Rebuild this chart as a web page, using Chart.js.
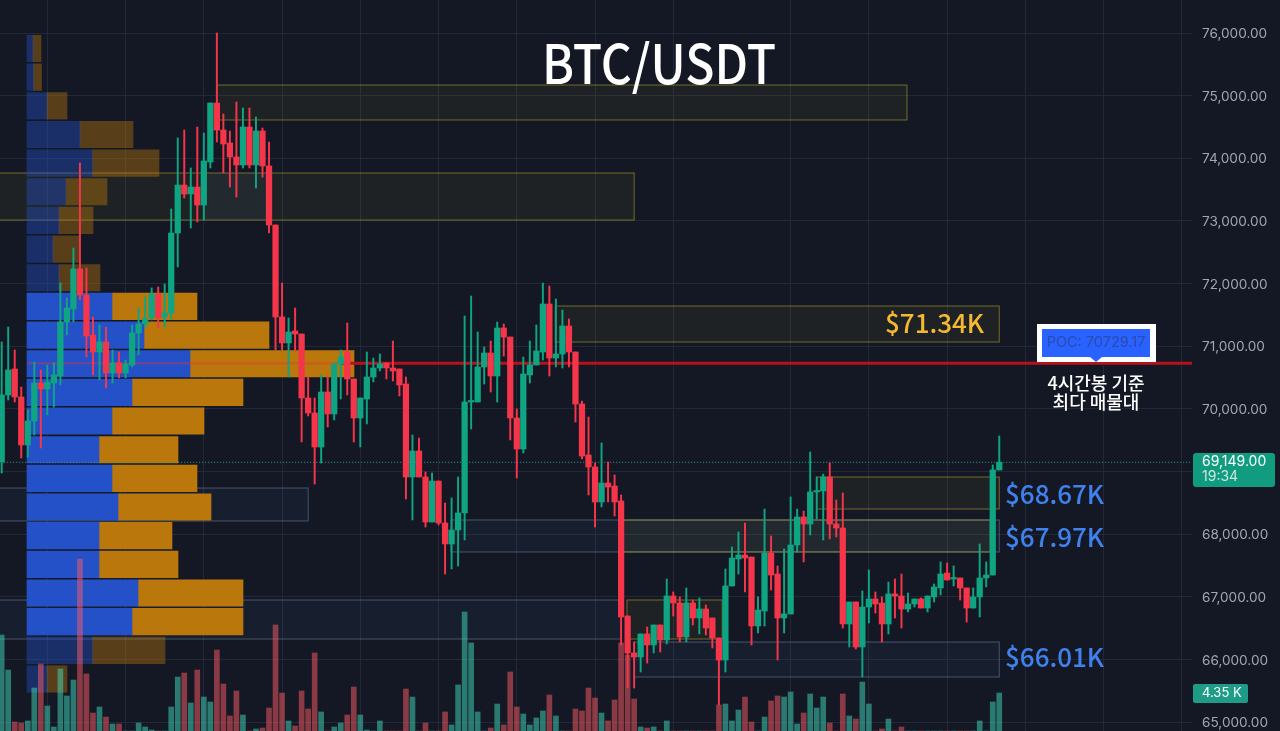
<!DOCTYPE html>
<html>
<head>
<meta charset="utf-8">
<title>BTC/USDT</title>
<style>
  html, body { margin: 0; padding: 0; background: #141824; overflow: hidden; }
  #wrap { width: 1280px; height: 731px; position: relative; }
</style>
<script src="https://cdn.jsdelivr.net/npm/chart.js@4/dist/chart.umd.min.js"></script>
</head>
<body>
<div id="wrap"><canvas id="btcChart"></canvas></div>
<script>
// 4h candles
const opens = [69153,70223,70638,70191,69425,69808,70414,70319,70414,70526,71388,71595,72234,71819,71180,70909,71069,70574,70734,70574,70702,71212,71356,71452,71835,71468,71532,72808,73574,73431,73542,73255,73941,74883,74452,74245,74021,73894,74500,73894,74436,73878,72936,71468,71053,71244,71196,70175,69936,69393,70271,69920,70718,70909,70478,69856,70159,70510,70654,70734,70654,70638,70398,68914,69329,68914,68196,68850,68180,67845,68068,68340,70111,70111,70670,70893,70526,71292,71148,69856,69361,70542,70702,70909,71675,70813,70877,71324,70909,70079,69265,69074,68515,68818,68770,68531,66696,66105,66041,66409,66233,66552,66313,67015,66903,66361,66903,66664,66807,66664,66345,65993,67175,67605,67669,67637,66536,66775,67701,67366,66664,66728,67829,68276,68164,68675,68691,68914,68164,68100,66568,66919,66201,66839,66967,66903,66568,67047,67015,66807,66887,66967,66823,67000,67143,67382,67286,67302,67143,66823,67000,67302,67350,69026];
const highs = [71069,71308,70941,70350,69983,70749,70622,70702,70734,72010,71771,72569,73926,72250,71468,71340,71308,70941,70909,70781,71340,71611,71787,71931,71947,71994,73191,74325,74452,73846,74500,74404,74883,76000,74708,74436,74899,74803,74803,74660,74484,74261,72936,72010,71452,71611,71196,70510,70175,70542,70510,70734,70941,71372,70478,70175,70909,70813,70877,70734,71085,70638,70510,69584,69536,68994,68978,68850,68499,68579,68914,71484,71803,71228,70989,71085,71388,71356,71148,69999,70829,71085,71340,72010,71963,71755,71579,71436,70909,70127,69872,69137,69457,69153,68946,68627,66696,66281,66409,66520,66552,66552,67286,67079,67000,67143,66951,66983,66871,66664,66345,67446,67797,68036,68180,67637,67000,68403,67973,67494,67765,68595,68403,68371,69313,68914,68962,69137,68547,68659,66919,66919,67095,67430,67079,67000,67238,67286,67366,67063,66967,66983,67015,67206,67558,67542,67494,67302,67143,67143,67845,67558,69106,69568];
const lows = [68978,70143,70111,69217,69233,69584,69377,69904,70031,70382,71180,71388,71739,70829,70542,70462,70335,70414,70494,70494,70670,70861,71308,71420,71292,71308,71436,72266,73367,72888,72984,73016,73846,74261,73766,73542,73383,73846,73846,73526,73702,72808,70941,70941,70510,70925,69473,69888,68802,69137,69712,69824,70159,70223,69473,69393,69760,70430,70606,70478,70446,70207,68563,68228,68914,68116,68196,68148,67366,67446,67494,67909,69680,70111,70398,70271,70111,70845,69505,68898,69297,70414,70702,70781,70526,70670,70654,70670,69792,69201,68627,68116,68435,68515,68292,66233,65546,65546,65802,65945,66105,66121,66249,66696,66281,66281,66552,66409,66393,66185,65275,65802,67175,67366,67079,66233,66425,66536,67111,65993,66425,66728,67717,67558,67989,68244,67909,67925,67957,66504,66201,66169,65722,66584,66743,66281,66409,66664,66504,66759,66839,66823,66759,66919,67031,67270,67175,66951,66600,66823,66680,67158,67350,69026];
const closes = [70223,70622,70191,69425,69808,70414,70319,70430,70542,71388,71611,72234,71819,71164,70909,71069,70574,70734,70574,70718,71212,71356,71436,71835,71452,71532,72808,73574,73431,73542,73255,73957,74883,74452,74229,74021,73894,74500,73894,74436,73878,72936,71468,71053,71228,71196,70175,69936,69393,70271,69920,70718,70829,70478,69856,70175,70510,70654,70718,70654,70606,70382,68914,69329,68914,68196,68850,68180,67845,68068,68340,70111,70127,70670,70893,70526,71292,71148,69856,69361,70558,70702,70925,71675,70813,70877,71324,70909,70079,69249,69074,68515,68818,68754,68515,66680,66105,66041,66409,66233,66552,66313,67015,66903,66361,66903,66664,66807,66504,66345,65993,67175,67621,67669,67621,66536,66791,67701,67350,66664,66728,67829,68276,68164,68675,68691,68914,68164,68100,66568,66919,66201,66839,66967,66887,66568,67047,67015,66807,66887,66967,66823,67015,67158,67366,67270,67302,67143,66823,67000,67302,67350,69026,69149];
// volume in thousands, 0 where the bar is below the visible edge
const volumes = [10.99,6.98,1.03,0.92,1.15,4.92,7.67,2.86,0.46,7.10,4.01,5.84,19.69,6.53,2.06,2.75,1.60,0.80,0.80,0,0,0.92,0.46,0.11,0,0,2.75,6.18,6.64,3.21,6.98,3.89,3.32,9.27,5.38,1.72,4.58,1.83,0,0.23,0.34,2.63,12.14,4.35,1.15,0.57,4.58,2.52,8.93,2.18,0,0.46,0.92,1.83,5.04,1.83,0.11,0,1.15,0,0,0,4.81,3.89,0,0.92,0,0,2.18,0.69,5.27,13.63,10.08,2.18,0,0.34,3.09,0.69,6.76,2.75,1.95,0.69,1.49,2.29,4.12,1.72,0,0,2.52,2.29,4.92,3.78,2.06,1.15,3.55,10.08,8.70,3.66,0.46,0.34,0.46,0,1.15,0,0,0,0,0,0,0,2.98,3.09,1.15,2.40,3.89,1.03,0,1.60,3.44,4.01,3.89,4.47,0.80,2.06,4.24,2.63,3.89,0.92,0,4.24,1.72,1.37,5.61,3.09,0,0.23,1.37,0,0.46,0,0,0,0,0,0,0,0,0,0,0,1.15,0,3.32,4.35];

// volume profile rows
const profilePrices = [75753,75296,74838,74381,73923,73466,73009,72551,72094,71636,71179,70722,70264,69807,69349,68892,68435,67977,67520,67062,66605,66148,65690];
const profileBuy = [6,6.5,20,53,65.5,39,32,26,32,85,117,163,105,85,72,85,91,72,72,111,105,65.5,20];
const profileSell = [8,8,20,53,66.5,41,34,27,41,85,125,164,111,92,79,85,93,73,79,105,111,72.5,20];
const valueAreaFirst = 9, valueAreaLast = 20;

// supply/demand boxes: candle index from/to and price band
const zoneFrom = [31,-1,-1,68.9,97,33,-1,84.9,125,95,95.9];
const zoneTo = [40.7,47,95,153,153,138.85,97,153,153,151.6,110.5];
const zoneHigh = [73766,68738,66951,68228,66280,75170,73766,71643,68914,68228,66951];
const zoneLow = [73015,68212,66328,67717,65722,74612,73015,71068,68403,67717,66328];
const zoneKind = ['tint','blue','blue','blue','blue','gold','gold','gold','gold','gold','gold'];

const gridCandles = [7,19,31,43,55,67,79,91,103,121,133,145,157,169,181];
const priceTicks = [76000,75000,74000,73000,72000,71000,70000,69000,68000,67000,66000,65000];

const pocPrice = 70729.17;
const lastPrice = 69149;
const chartEnd = 182.56;

const GREEN = '#0fa582', RED = '#f5364a';
const isUp = i => closes[i] >= opens[i];

const zoneStyles = {
  tint: { fill: 'rgba(70,130,200,0.08)', line: 'rgba(0,0,0,0)' },
  blue: { fill: 'rgba(70,130,200,0.07)', line: 'rgba(150,180,220,0.38)' },
  gold: { fill: 'rgba(255,235,30,0.05)', line: 'rgba(255,235,59,0.38)' }
};

// boxes sit under everything the library draws
const zonePlugin = {
  id: 'zones',
  beforeDatasetsDraw(chart) {
    const { ctx, chartArea, scales: { x, y } } = chart;
    ctx.save();
    ctx.beginPath();
    ctx.rect(chartArea.left, chartArea.top, chartArea.width, chartArea.height);
    ctx.clip();
    zoneFrom.forEach((from, i) => {
      const style = zoneStyles[zoneKind[i]];
      const left = x.getPixelForValue(from), right = x.getPixelForValue(zoneTo[i]);
      const top = y.getPixelForValue(zoneHigh[i]), bottom = y.getPixelForValue(zoneLow[i]);
      ctx.fillStyle = style.fill;
      ctx.fillRect(left, top, right - left, bottom - top);
      ctx.strokeStyle = style.line;
      ctx.lineWidth = 1;
      ctx.strokeRect(left, top, right - left, bottom - top);
    });
    ctx.restore();
  }
};

function drawText(ctx, text, px, py, font, color, align) {
  ctx.font = font;
  ctx.fillStyle = color;
  ctx.textAlign = align || 'left';
  ctx.textBaseline = 'middle';
  ctx.fillText(text, px, py);
}

function roundBox(ctx, left, top, w, h, r, color) {
  ctx.fillStyle = color;
  ctx.beginPath();
  ctx.roundRect(left, top, w, h, r);
  ctx.fill();
}

const labelPlugin = {
  id: 'labels',
  afterDraw(chart) {
    const { ctx } = chart;
    const KR = '"Noto Sans CJK KR", "Noto Sans", sans-serif';
    const UI = 'Inter, "Noto Sans", sans-serif';
    ctx.save();

    // the title face is narrower than anything installed, so squeeze it a little
    ctx.save();
    ctx.translate(659, 63);
    ctx.scale(0.89, 1);
    drawText(ctx, 'BTC/USDT', 0, 0, '500 54px ' + KR, '#ffffff', 'center');
    ctx.restore();

    drawText(ctx, '$71.34K', 885, 323, '500 26px ' + KR, '#f6b82f');
    drawText(ctx, '$68.67K', 1005, 494, '500 26px ' + KR, '#3f82ee');
    drawText(ctx, '$67.97K', 1005, 537, '500 26px ' + KR, '#3f82ee');
    drawText(ctx, '$66.01K', 1005, 657, '500 26px ' + KR, '#3f82ee');

    // POC callout
    ctx.fillStyle = '#ffffff';
    ctx.fillRect(1037, 324, 119, 38);
    ctx.fillStyle = '#2962ff';
    ctx.fillRect(1042, 329, 108, 28);
    ctx.beginPath();
    ctx.moveTo(1090, 357);
    ctx.lineTo(1102, 357);
    ctx.lineTo(1096, 362);
    ctx.fill();
    drawText(ctx, 'POC: 70729.17', 1096, 343, '14.5px ' + UI, '#2a4cae', 'center');
    drawText(ctx, '4시간봉 기준', 1096, 383, '500 18px ' + KR, '#ffffff', 'center');
    drawText(ctx, '최다 매물대', 1096, 402, '500 18px ' + KR, '#ffffff', 'center');

    // last price and volume tags on the axis
    roundBox(ctx, 1193, 453, 82, 34, 3, '#119b7f');
    drawText(ctx, '69,149.00', 1202, 462, '14px ' + UI, '#ffffff');
    drawText(ctx, '19:34', 1202, 477, '14px ' + UI, '#c9e8e0');
    roundBox(ctx, 1193, 684, 55, 19, 2, '#1f9c88');
    drawText(ctx, '4.35 K', 1202, 693.5, '13px ' + UI, '#ffffff');
    ctx.restore();
  }
};

const candleIndex = opens.map((_, i) => i);

new Chart(document.getElementById('btcChart'), {
  type: 'bar',
  data: {
    datasets: [
      {
        label: 'Buy profile', indexAxis: 'y', xAxisID: 'xProfile', yAxisID: 'y', order: 8,
        data: profilePrices.map((p, i) => ({ x: [0, profileBuy[i]], y: p })),
        barThickness: 26.5,
        backgroundColor: c => (c.dataIndex >= valueAreaFirst && c.dataIndex <= valueAreaLast) ? '#2450c8' : 'rgba(36,80,200,0.42)'
      },
      {
        label: 'Sell profile', indexAxis: 'y', xAxisID: 'xProfile', yAxisID: 'y', order: 9,
        data: profilePrices.map((p, i) => ({ x: [profileBuy[i], profileBuy[i] + profileSell[i]], y: p })),
        barThickness: 26.5,
        backgroundColor: c => (c.dataIndex >= valueAreaFirst && c.dataIndex <= valueAreaLast) ? '#b9770c' : 'rgba(185,119,12,0.42)'
      },
      {
        label: 'Volume', yAxisID: 'yVolume', order: 6,
        data: candleIndex.map(i => ({ x: i, y: volumes[i] })),
        barThickness: 5,
        backgroundColor: c => isUp(c.dataIndex) ? 'rgba(64,220,192,0.5)' : 'rgba(255,92,102,0.5)'
      },
      {
        type: 'line', label: 'POC inside profile', order: 5, yAxisID: 'y',
        data: [{ x: 3.9, y: pocPrice }, { x: 52, y: pocPrice }],
        borderColor: 'rgba(235,50,60,0.35)', borderWidth: 2.5, pointRadius: 0
      },
      {
        type: 'line', label: 'POC', order: 4, yAxisID: 'y',
        data: [{ x: 52, y: pocPrice }, { x: chartEnd, y: pocPrice }],
        borderColor: '#b5131b', borderWidth: 3, pointRadius: 0
      },
      {
        type: 'line', label: 'Last price', order: 3, yAxisID: 'y',
        data: [{ x: -1, y: lastPrice }, { x: chartEnd, y: lastPrice }],
        borderColor: '#2aa79a', borderWidth: 1, borderDash: [1, 2], pointRadius: 0
      },
      {
        label: 'Wicks', yAxisID: 'y', order: 2,
        data: candleIndex.map(i => ({ x: i, y: [lows[i], highs[i]] })),
        barThickness: 1.3,
        backgroundColor: c => isUp(c.dataIndex) ? GREEN : RED
      },
      {
        label: 'Bodies', yAxisID: 'y', order: 1,
        data: candleIndex.map(i => ({ x: i, y: [opens[i], closes[i]] })),
        barThickness: 5.6,
        minBarLength: 1.5,
        backgroundColor: c => isUp(c.dataIndex) ? GREEN : RED
      }
    ]
  },
  options: {
    responsive: true,
    maintainAspectRatio: false,
    animation: false,
    layout: { padding: 0 },
    datasets: { bar: { grouped: false }, line: { clip: true } },
    plugins: { legend: { display: false }, tooltip: { enabled: false } },
    events: [],
    scales: {
      x: {
        type: 'linear', min: -0.26, max: chartEnd, offset: false,
        afterBuildTicks: scale => { scale.ticks = gridCandles.map(v => ({ value: v })); },
        ticks: { display: false },
        border: { display: false },
        grid: { offset: false, color: '#232836', lineWidth: 1, drawTicks: false }
      },
      xProfile: { type: 'linear', axis: 'x', display: false, min: -27, max: 1165, offset: false },
      y: {
        type: 'linear', position: 'right', min: 64860, max: 76527, offset: false,
        afterBuildTicks: scale => { scale.ticks = priceTicks.map(v => ({ value: v })); },
        afterFit: scale => { scale.width = 88; scale.paddingTop = 0; scale.paddingBottom = 0; },
        ticks: {
          padding: 10, color: '#a3a6af', labelOffset: 1,
          font: { family: 'Inter, "Noto Sans", sans-serif', size: 13.6 },
          callback: v => v.toLocaleString('en-US', { minimumFractionDigits: 2, maximumFractionDigits: 2 })
        },
        border: { display: false },
        grid: { offset: false, color: '#232836', lineWidth: 1, drawTicks: false }
      },
      yVolume: { type: 'linear', axis: 'y', display: false, min: 0, max: 83.7, offset: false }
    }
  },
  plugins: [zonePlugin, labelPlugin]
});
</script>
</body>
</html>
